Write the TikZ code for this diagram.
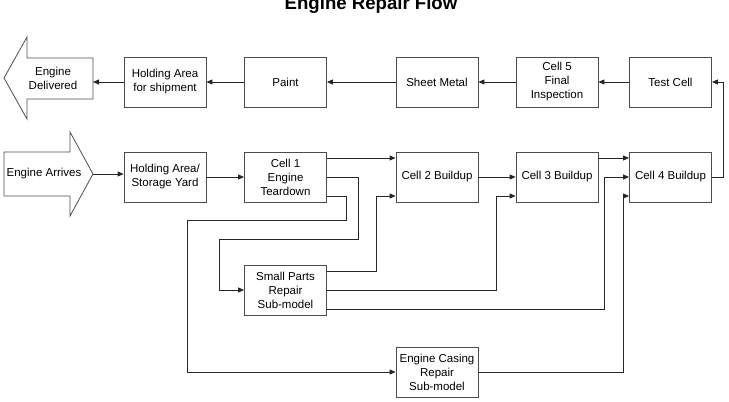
\documentclass[tikz,border=0pt]{standalone}
\usepackage{fontspec}
\setmainfont{Liberation Sans}
\usetikzlibrary{arrows.meta,calc}
\begin{document}
\begin{tikzpicture}[x=1pt,y=-1pt,
  box/.style={draw=black!70,line width=0.8pt,minimum width=82pt,minimum height=50pt,inner sep=1pt,align=center,font=\fontsize{11.5}{14}\selectfont},
  lbl/.style={align=center,font=\fontsize{11.5}{14}\selectfont},
  conn/.style={draw=black!85,line width=0.8pt,-{Triangle[length=6pt,width=5pt]}},
  bigarrow/.style={draw=black!70,line width=0.8pt}]
\useasboundingbox (0,0) rectangle (729,402);
\node[font=\bfseries\fontsize{18.6}{20}\selectfont,anchor=base] (title) at (371,9) {Engine Repair Flow};
% top row
\node[box] (hold2) at (165,82) {Holding Area\\for shipment};
\node[box] (paint) at (285.5,82) {Paint};
\node[box] (sheet) at (437,82) {Sheet Metal};
\node[box] (cell5) at (557,82) {Cell 5\\Final\\Inspection};
\node[box] (test) at (670.5,82) {Test Cell};
% second row
\node[box] (hold1) at (165,177) {Holding Area/\\Storage Yard};
\node[box] (c1) at (285.5,177) {Cell 1\\Engine\\Teardown};
\node[box] (c2) at (437,177) {Cell 2 Buildup};
\node[box] (c3) at (557,177) {Cell 3 Buildup};
\node[box] (c4) at (670.5,177) {Cell 4 Buildup};
% sub-models
\node[box] (sp) at (285.5,290) {Small Parts\\Repair\\Sub-model};
\node[box] (ec) at (437,372) {Engine Casing\\Repair\\Sub-model};
% big arrows
\draw[bigarrow] (4,78) -- (27,37) -- (27,58) -- (93,58) -- (93,99) -- (27,99) -- (27,119) -- cycle;
\coordinate (deltail) at (93,82);
\node[lbl] (del) at (53,78) {Engine\\Delivered};
\draw[bigarrow] (4,152) -- (70,152) -- (70,132) -- (93,174) -- (70,216) -- (70,196) -- (4,196) -- cycle;
\coordinate (arrtip) at (93,174);
\node[lbl] (arr) at (44,174) {Engine Arrives};
% connectors top row
\draw[conn] (hold2.west) -- (deltail);
\draw[conn] (paint.west) -- (hold2.east);
\draw[conn] (sheet.west) -- (paint.east);
\draw[conn] (cell5.west) -- (sheet.east);
\draw[conn] (test.west) -- (cell5.east);
\draw[conn] (c4.east) -- ++(11,0) |- (test.east);
% second row
\draw[conn] (arrtip) -- (arrtip -| hold1.west);
\draw[conn] (hold1.east) -- (c1.west);
\draw[conn] ([yshift=19pt]c1.east) -- ([yshift=19pt]c2.west);
\draw[conn] (c1.east) -| (358,239) -| (219,290) -- (sp.west);
\draw[conn] ([yshift=-19pt]c1.east) -| (346,220) -| (187,372) -- (ec.west);
\draw[conn] (c2.east) -- (c3.west);
\draw[conn] ([yshift=19pt]c3.east) -- ([yshift=19pt]c4.west);
% from sub-models
\draw[conn] ([yshift=19pt]sp.east) -| ([xshift=-19pt,yshift=-19pt]c2.west) -- ([yshift=-19pt]c2.west);
\draw[conn] (sp.east) -| ([xshift=-19pt,yshift=-19pt]c3.west) -- ([yshift=-19pt]c3.west);
\draw[conn] ([yshift=-19pt]sp.east) -| ([xshift=-25pt]c4.west) -- (c4.west);
\draw[conn] (ec.east) -| ([xshift=-6pt,yshift=-19pt]c4.west) -- ([yshift=-19pt]c4.west);
\end{tikzpicture}
\end{document}
